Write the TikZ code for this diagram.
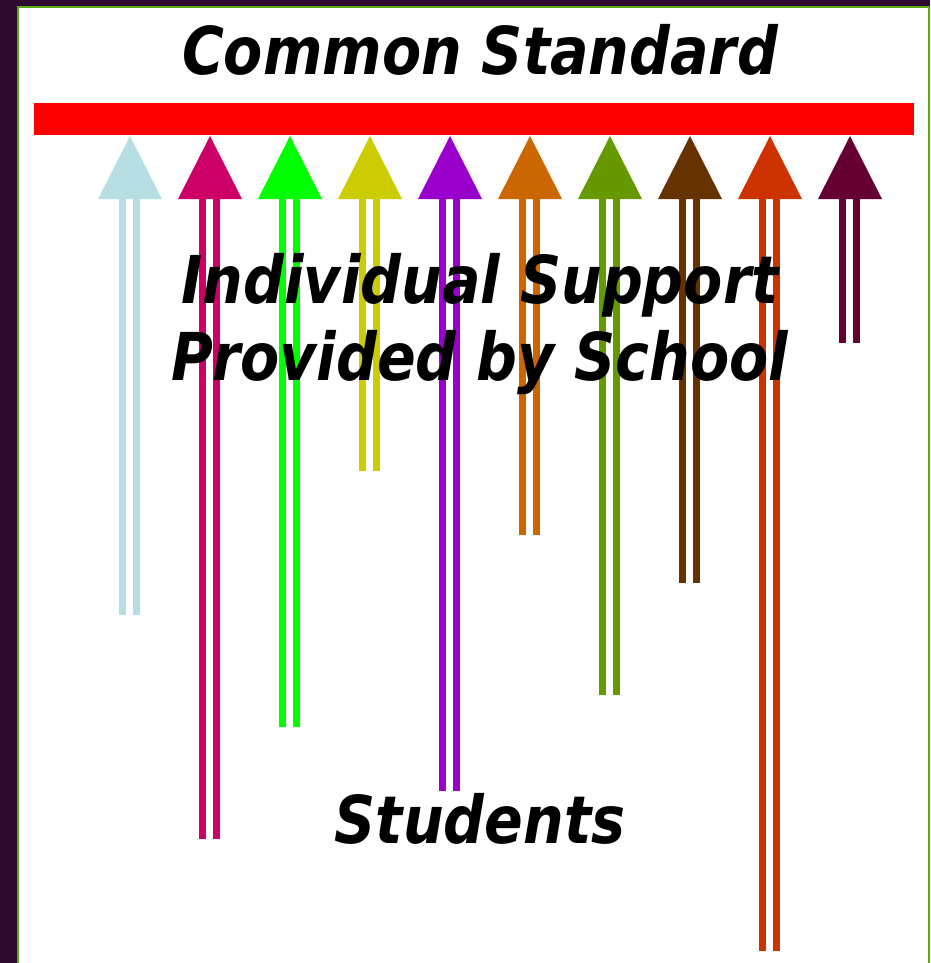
\documentclass[tikz,border=0pt]{standalone}
\usepackage{fontspec}
\newfontfamily\titlefont{DejaVu Sans}[FakeStretch=0.865]
\definecolor{frameplum}{HTML}{2E0A30}
\definecolor{framegreen}{HTML}{5AA815}
\definecolor{capa}{HTML}{B7DEE2}
\definecolor{capb}{HTML}{CC0066}
\definecolor{capc}{HTML}{00FF00}
\definecolor{capd}{HTML}{CCCC00}
\definecolor{cape}{HTML}{9900CC}
\definecolor{capf}{HTML}{CC6600}
\definecolor{capg}{HTML}{669900}
\definecolor{caph}{HTML}{663300}
\definecolor{capi}{HTML}{CC3300}
\definecolor{capj}{HTML}{660033}
\begin{document}
\begin{tikzpicture}[x=1pt, y=-1pt,
    shaft/.style={line width=7pt},
    title/.style={font=\titlefont\bfseries\itshape\fontsize{66}{77}\selectfont, inner sep=0pt}]
            \useasboundingbox (0,0) rectangle (930,963);
            \fill[frameplum] (0,0) rectangle (930,963);
            \fill[white] (18,7) rectangle (930,963);
            \draw[framegreen, line width=2pt] (18,963) -- (18,7) -- (929,7) -- (929,963);
            % bar at the top
            \fill[red] (34,103) rectangle (914,135);
            % arrows from the students up to the bar
            \fill[capa] (98,199) -- (130,136) -- (162,199) -- cycle;
            \draw[shaft, capa] (122.5,199) -- (122.5,615);
            \draw[shaft, capa] (136.5,199) -- (136.5,615);
            \fill[capb] (178,199) -- (210,136) -- (242,199) -- cycle;
            \draw[shaft, capb] (202.5,199) -- (202.5,839);
            \draw[shaft, capb] (216.5,199) -- (216.5,839);
            \fill[capc] (258,199) -- (290,136) -- (322,199) -- cycle;
            \draw[shaft, capc] (282.5,199) -- (282.5,727);
            \draw[shaft, capc] (296.5,199) -- (296.5,727);
            \fill[capd] (338,199) -- (370,136) -- (402,199) -- cycle;
            \draw[shaft, capd] (362.5,199) -- (362.5,471);
            \draw[shaft, capd] (376.5,199) -- (376.5,471);
            \fill[cape] (418,199) -- (450,136) -- (482,199) -- cycle;
            \draw[shaft, cape] (442.5,199) -- (442.5,791);
            \draw[shaft, cape] (456.5,199) -- (456.5,791);
            \fill[capf] (498,199) -- (530,136) -- (562,199) -- cycle;
            \draw[shaft, capf] (522.5,199) -- (522.5,535);
            \draw[shaft, capf] (536.5,199) -- (536.5,535);
            \fill[capg] (578,199) -- (610,136) -- (642,199) -- cycle;
            \draw[shaft, capg] (602.5,199) -- (602.5,695);
            \draw[shaft, capg] (616.5,199) -- (616.5,695);
            \fill[caph] (658,199) -- (690,136) -- (722,199) -- cycle;
            \draw[shaft, caph] (682.5,199) -- (682.5,583);
            \draw[shaft, caph] (696.5,199) -- (696.5,583);
            \fill[capi] (738,199) -- (770,136) -- (802,199) -- cycle;
            \draw[shaft, capi] (762.5,199) -- (762.5,951);
            \draw[shaft, capi] (776.5,199) -- (776.5,951);
            \fill[capj] (818,199) -- (850,136) -- (882,199) -- cycle;
            \draw[shaft, capj] (842.5,199) -- (842.5,343);
            \draw[shaft, capj] (856.5,199) -- (856.5,343);
            % texts
            \node[title] (standard) at (480,50) {Common Standard};
            \node[title, align=center] (support) at (480,324) {Individual Support\\Provided by School};
            \node[title] (students) at (480,819) {Students};
        \end{tikzpicture}
\end{document}
